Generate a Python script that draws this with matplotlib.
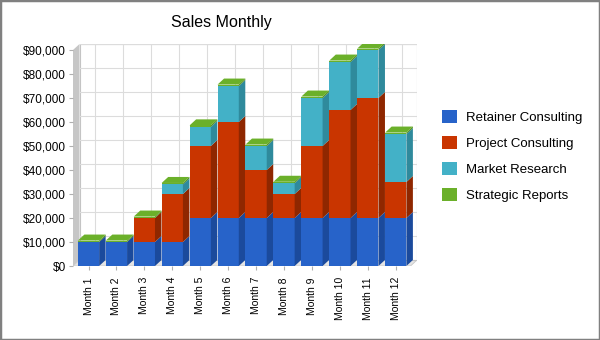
import matplotlib.pyplot as plt
from matplotlib.patches import Polygon, Patch, Rectangle
import numpy as np

plt.rcParams['font.family'] = ['Liberation Sans', 'DejaVu Sans']

months = ["Month 1", "Month 2", "Month 3", "Month 4", "Month 5", "Month 6",
          "Month 7", "Month 8", "Month 9", "Month 10", "Month 11", "Month 12"]
retainer = [10000, 10000, 10000, 10000, 20000, 20000, 20000, 20000, 20000, 20000, 20000, 20000]
project = [0, 0, 10000, 20000, 30000, 40000, 20000, 10000, 30000, 45000, 50000, 15000]
market = [0, 0, 0, 4000, 8000, 15000, 10000, 4500, 20000, 20000, 20000, 20000]
strategic = [600, 600, 600, 600, 600, 600, 600, 600, 600, 600, 600, 600]

series_names = ["Retainer Consulting", "Project Consulting", "Market Research", "Strategic Reports"]
front_cols = ["#2763c9", "#c93500", "#43b1c7", "#6bb02a"]
side_cols = ["#1b4a9c", "#8f2700", "#2f8a9c", "#4e8a1e"]
top_cols = ["#3a78dc", "#dc4a10", "#5cc4d8", "#6bb02a"]

bar_w = 0.76
dx = 0.233
dy = 2500
xmin, xmax = -0.555, 11.76
ymax = 92500

fig = plt.figure(figsize=(6, 3.4), dpi=100)
ax = fig.add_axes([73 / 600, 1 - 266 / 340, 344 / 600, 222 / 340])
ax.set_xlim(xmin, xmax)
ax.set_ylim(0, ymax)

# walls
ax.add_patch(Polygon([(xmin, 0), (xmin + dx, dy), (xmin + dx, ymax), (xmin, ymax - dy)],
                     closed=True, facecolor="#c6c6c6", edgecolor="none", zorder=1))
ax.add_patch(Polygon([(xmin, 0), (xmin + dx, dy), (xmax, dy), (xmax - dx, 0)],
                     closed=True, facecolor="#e4e4e4", edgecolor="#c8c8c8", lw=0.6, zorder=1))
ax.add_patch(Rectangle((xmin + dx, dy), xmax - xmin - dx, ymax - dy,
                       facecolor="white", edgecolor="#c4c4c4", lw=0.8, zorder=1))

yticks = np.arange(0, 90001, 10000)
for yv in yticks[1:]:
    ax.plot([xmin + dx, xmax], [yv + dy, yv + dy], color="#dcdcdc", lw=0.8, zorder=2)
for i in range(len(months)):
    ax.plot([i + dx, i + dx], [dy, ymax], color="#dcdcdc", lw=0.8, zorder=2)

# bars
x = np.arange(len(months))
stack = [retainer, project, market, strategic]
z = 3
for i in range(len(months)):
    base = 0
    top_idx = max(k for k in range(4) if stack[k][i] > 0)
    for k in range(4):
        h = stack[k][i]
        if h <= 0:
            continue
        left = x[i] - bar_w / 2
        right = x[i] + bar_w / 2
        ax.bar(x[i], h, bottom=base, width=bar_w, color=front_cols[k], zorder=z)
        ax.add_patch(Polygon([(right, base), (right + dx, base + dy),
                              (right + dx, base + h + dy), (right, base + h)],
                             closed=True, facecolor=side_cols[k], edgecolor="none", zorder=z))
        if k == top_idx:
            t = base + h
            ax.add_patch(Polygon([(left, t), (left + dx, t + dy), (right + dx, t + dy), (right, t)],
                                 closed=True, facecolor=top_cols[k], edgecolor="none", zorder=z))
        base += h
    z += 1

for s in ax.spines.values():
    s.set_visible(False)
ax.set_yticks(yticks)
ax.set_yticklabels([f"${v:,.0f}" for v in yticks], fontsize=8.5)
ax.set_xticks(x)
ax.set_xticklabels(months, rotation=90, fontsize=7.5)
ax.tick_params(axis="both", length=3, color="#b0b0b0", pad=2)
ax.tick_params(axis="x", pad=5)

fig.text(221 / 600, 1 - 23 / 340, "Sales Monthly", ha="center", va="center", fontsize=11.5)

handles = [Patch(facecolor=c, edgecolor="none") for c in front_cols]
fig.legend(handles, series_names, loc="upper left", bbox_to_anchor=(430 / 600, 1 - 98 / 340),
           frameon=False, fontsize=9.5, handlelength=1.15, handleheight=1.15,
           handletextpad=0.7, labelspacing=0.9)

fig.add_artist(Rectangle((0, 0), 1, 1, transform=fig.transFigure, fill=False,
                         edgecolor="#808080", lw=2.5))

fig.savefig("out.png", dpi=100)
